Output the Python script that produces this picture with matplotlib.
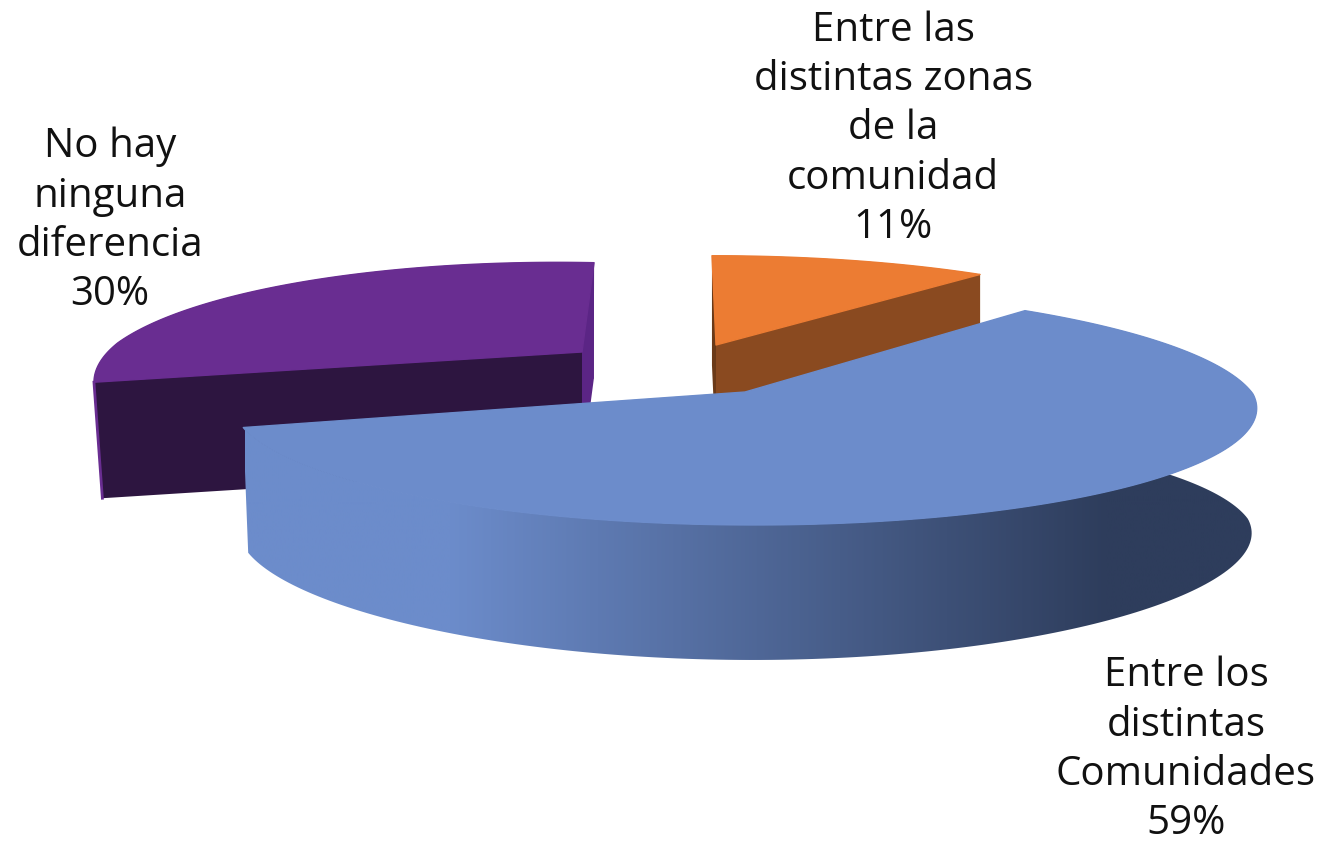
# build the exploded 3d looking pie by hand, matplotlib has no 3d pie
import numpy as np
import matplotlib
matplotlib.use("Agg")
from matplotlib import pyplot as plt
from matplotlib.colors import LinearSegmentedColormap
from matplotlib.patches import Polygon

# chart data, clockwise from the top
labels = ["Entre las\ndistintas zonas\nde la\ncomunidad",
	"Entre los\ndistintas\nComunidades",
	"No hay\nninguna\ndiferencia"]
values = [11, 59, 30]

# look of each slice: apex, radii, depth, shear and text position
apex = [(716, 345), (745, 392), (582, 352)]
radius_x = [458, 508, 464]
radius_y = [100, 117, 117]
depth = [110, 135, 116]
persp = [0.12, 0.12, 0.31]
shear_x = [0.045, 0.2, -0.135]
shear_y = [0.0, 0.004, 0.02]
converge = [0, 5, 8]
taper = [0, 10, 0]
top_colors = ["#EC7C33", "#6C8CCB", "#692D91"]
face_colors = ["#8A4A20", "#2E3D5C", "#2D1540"]
side_colors = ["#6B3A18", "#6C8CCB", "#5B2585"]
label_pos = [(893, 129), (1186, 750), (110, 221)]

plt.rcParams["font.family"] = ["Open Sans", "DejaVu Sans"]
fig = plt.figure(figsize=(13.17, 8.42), dpi=100)
ax = fig.add_axes([0, 0, 1, 1])
ax.set_xlim(0, 1317)
ax.set_ylim(842, 0)
ax.axis("off")


def project(i, theta):
	# angle in degrees, clockwise from the top, to picture coordinates
	t = np.radians(theta)
	u = np.sin(t)
	v = np.cos(t)
	w = 1 + persp[i] * v
	x = radius_x[i] * u / w
	y = -radius_y[i] * v / w
	# only the far half leans over
	return np.column_stack((apex[i][0] + x + shear_x[i] * np.minimum(y, 0),
		apex[i][1] + y + shear_y[i] * x))


def drop(i, points):
	# move the points down to the bottom of the slice
	rel = (points[:, 0] - apex[i][0]) / radius_x[i]
	return np.column_stack((points[:, 0] - converge[i] * rel,
		points[:, 1] + depth[i] - taper[i] * rel ** 2))


# slice limits from the values
edges = np.cumsum([0] + values) / sum(values) * 360.0

# back slices first, the big one goes over them
for (z, i) in enumerate([0, 2, 1]):
	theta = np.linspace(edges[i], edges[i + 1], 200)
	arc = project(i, theta)
	centre = np.array([apex[i]], dtype=float)

	# outer rim
	rim = np.vstack((arc, drop(i, arc)[::-1]))
	if i == 1:
		# the rim of the big slice gets darker to the right
		cmap = LinearSegmentedColormap.from_list("rim",
			[(0.0, side_colors[i]), (0.2, side_colors[i]), (0.85, face_colors[i]), (1.0, face_colors[i])])
		patch = Polygon(rim, closed=True, fc="none", ec="none")
		ax.add_patch(patch)
		im = ax.imshow(np.linspace(0, 1, 512).reshape(1, -1), cmap=cmap, aspect="auto",
			extent=(245, 1260, 700, 300), zorder=z + 1.1)
		im.set_clip_path(patch)
		ax.set_xlim(0, 1317)
		ax.set_ylim(842, 0)
	else:
		ax.add_patch(Polygon(rim, closed=True, fc=side_colors[i], ec="none", zorder=z + 1.1))

	# the two cut faces
	first = arc[:1]
	last = arc[-1:]
	if i == 0:
		faces = [(first, side_colors[i]), (last, face_colors[i])]
	elif i == 2:
		faces = [(last, side_colors[i]), (first, face_colors[i])]
	else:
		faces = []
	for (end, color) in faces:
		quad = np.vstack((centre, end, drop(i, end), drop(i, centre)))
		ax.add_patch(Polygon(quad, closed=True, fc=color, ec="none", zorder=z + 1.2))

	# thin bit of rim seen past the left end of the purple face
	if i == 2:
		side = np.vstack((first, drop(i, first)))
		ax.plot(side[:, 0], side[:, 1], color=top_colors[i], lw=2, zorder=z + 1.25)

	# top of the slice
	top = np.vstack((centre, arc))
	ax.add_patch(Polygon(top, closed=True, fc=top_colors[i], ec=top_colors[i], lw=1, joinstyle="round", zorder=z + 1.3))

# labels with the percentage on the last line
for (label, value, pos) in zip(labels, values, label_pos):
	ax.text(pos[0], pos[1], "{}\n{}%".format(label, value), ha="center", va="center",
		fontsize=29, color="#111111", linespacing=1.29, zorder=10)

fig.savefig("out.png", dpi=100)
